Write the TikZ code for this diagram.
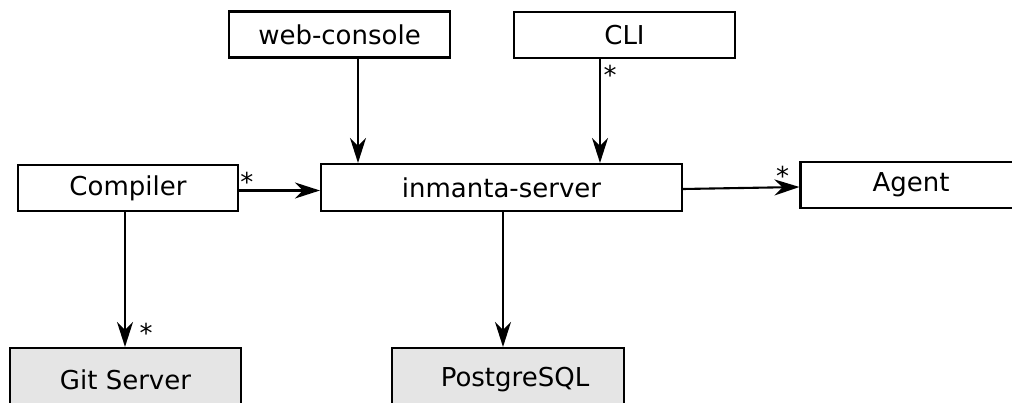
\documentclass[tikz,border=0pt]{standalone}
\usepackage{fontspec}
\setmainfont{DejaVu Sans}
\usepackage{tikz}
\usetikzlibrary{arrows.meta}
\usetikzlibrary{positioning}
\usetikzlibrary{calc}
\tikzset{
    >={Stealth[length=25pt,width=16pt,inset=8pt]},
    comp/.style={draw=black, fill=white, minimum width=221pt, minimum height=46pt,
        inner sep=0pt, font=\fontsize{26}{30}\selectfont},
    extcomp/.style={comp, fill=black!10, minimum height=64pt},
    uses/.style={draw=black, ->},
    mult/.style={font=\fontsize{26}{30}\selectfont, inner sep=0pt, anchor=base},
}

\begin{document}
\begin{tikzpicture}[x=1pt, y=-1pt, line width=2.1pt]
\useasboundingbox (0,0) rectangle (1012,403);
% \draw[step=50pt, very thin, gray] (0,0) grid (1012,403);
\node[comp] (web) at (339.5,34.5) {web-console};
\node[comp] (cli) at (624.5,35) {CLI};
\node[comp, minimum width=220pt] (compiler) at (128,188) {Compiler};
\node[comp, minimum width=361pt, minimum height=47pt] (server) at (501.5,187.5) {inmanta-server};
\node[comp] (agent) at (911,185) {Agent};
\node[extcomp, minimum width=231pt] (git) at (125.5,380) {Git Server};
\node[extcomp, minimum width=232pt] (pg) at (508,380) {\hspace*{14pt}PostgreSQL};

\draw[uses] ([xshift=18.5pt]web.south) -- ([xshift=18.5pt]web.south |- server.north);
\draw[uses] ([xshift=-24.5pt]cli.south) -- ([xshift=-24.5pt]cli.south |- server.north)
    node[mult, pos=0.245, xshift=10pt] {*};
\draw[uses] ([yshift=-2.5pt]compiler.east) -- ([yshift=-2.5pt]compiler.east -| server.west)
    node[mult, pos=0.096, yshift=-1pt] {*};
\draw[uses] ([yshift=-1.5pt]server.east) -- ([yshift=-2pt]agent.west)
    node[mult, pos=0.856, yshift=2pt] {*};
\draw[uses] ([xshift=-3pt]compiler.south) -- ([xshift=-3pt]compiler.south |- git.north)
    node[mult, pos=0.964, xshift=21pt] {*};
\draw[uses] ([xshift=1.5pt]server.south) -- ([xshift=1.5pt]server.south |- pg.north);
\end{tikzpicture}
\end{document}
